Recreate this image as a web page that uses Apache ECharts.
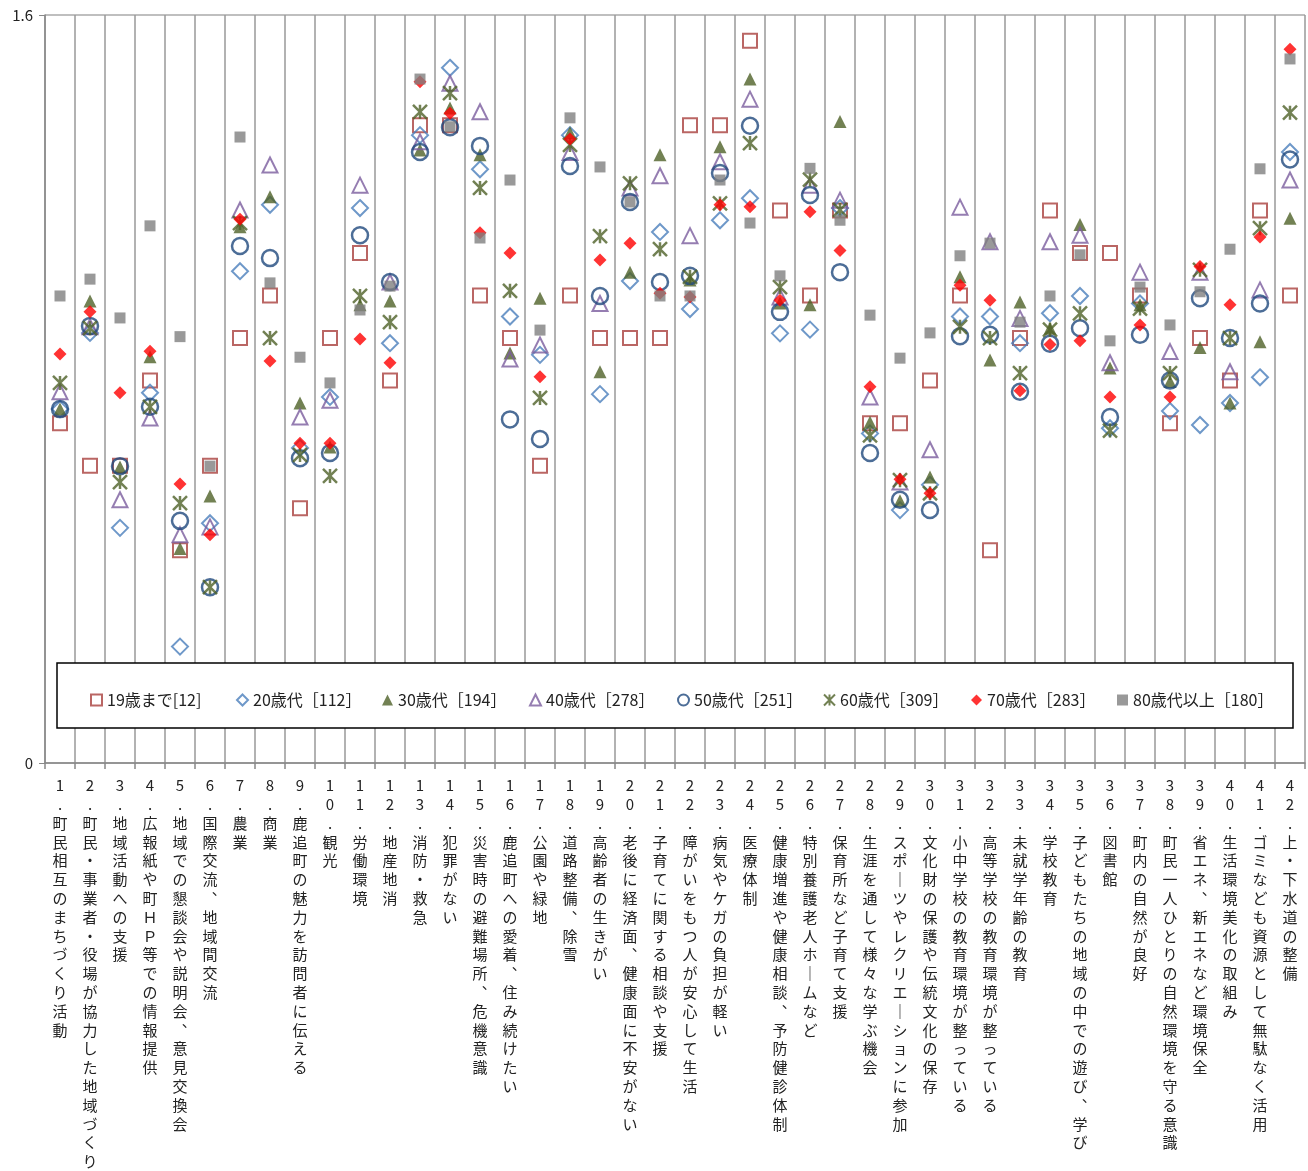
<!DOCTYPE html>
<html>
<head>
<meta charset="utf-8">
<script src="https://cdn.jsdelivr.net/npm/echarts@6/dist/echarts.min.js"></script>
<style>
  html, body { margin: 0; padding: 0; background: #fff; }
  #chart { width: 1308px; height: 1171px; }
</style>
</head>
<body>
<div id="chart"></div>
<script>
// 項目名
const items = [
  '町民相互のまちづくり活動', '町民・事業者・役場が協力した地域づくり', '地域活動への支援',
  '広報紙や町ＨＰ等での情報提供', '地域での懇談会や説明会、意見交換会', '国際交流、地域間交流',
  '農業', '商業', '鹿追町の魅力を訪問者に伝える', '観光', '労働環境', '地産地消',
  '消防・救急', '犯罪がない', '災害時の避難場所、危機意識', '鹿追町への愛着、住み続けたい',
  '公園や緑地', '道路整備、除雪', '高齢者の生きがい', '老後に経済面、健康面に不安がない',
  '子育てに関する相談や支援', '障がいをもつ人が安心して生活', '病気やケガの負担が軽い', '医療体制',
  '健康増進や健康相談、予防健診体制', '特別養護老人ホームなど', '保育所など子育て支援',
  '生涯を通して様々な学ぶ機会', 'スポーツやレクリエーションに参加', '文化財の保護や伝統文化の保存',
  '小中学校の教育環境が整っている', '高等学校の教育環境が整っている', '未就学年齢の教育', '学校教育',
  '子どもたちの地域の中での遊び、学び', '図書館', '町内の自然が良好', '町民一人ひとりの自然環境を守る意識',
  '省エネ、新エネなど環境保全', '生活環境美化の取組み', 'ゴミなども資源として無駄なく活用', '上・下水道の整備'
];

const yTicks = [0, 1.6];

const names = ['19歳まで[12]', '20歳代［112］', '30歳代［194］', '40歳代［278］',
  '50歳代［251］', '60歳代［309］', '70歳代［283］', '80歳代以上［180］'];

const v19 = [0.727, 0.636, 0.636, 0.818, 0.455, 0.636, 0.909, 1.0, 0.545, 0.909, 1.091, 0.818,
  1.364, 1.364, 1.0, 0.909, 0.636, 1.0, 0.909, 0.909, 0.909, 1.364, 1.364, 1.545,
  1.182, 1.0, 1.182, 0.727, 0.727, 0.818, 1.0, 0.455, 0.909, 1.182, 1.091, 1.091,
  1.0, 0.727, 0.909, 0.818, 1.182, 1.0];
const v20 = [0.757, 0.920, 0.503, 0.792, 0.249, 0.513, 1.052, 1.194, 0.674, 0.783, 1.187, 0.898,
  1.343, 1.487, 1.270, 0.955, 0.873, 1.343, 0.789, 1.031, 1.136, 0.971, 1.161, 1.208,
  0.919, 0.927, 1.187, 0.705, 0.541, 0.595, 0.955, 0.955, 0.898, 0.962, 0.999, 0.716,
  0.983, 0.753, 0.723, 0.770, 0.825, 1.307];
const v30 = [0.757, 0.988, 0.633, 0.869, 0.459, 0.571, 1.147, 1.211, 0.770, 0.676, 0.980, 0.988,
  1.311, 1.401, 1.301, 0.877, 0.994, 1.348, 0.837, 1.050, 1.301, 1.033, 1.318, 1.463,
  0.984, 0.980, 1.372, 0.729, 0.561, 0.612, 1.040, 0.862, 0.986, 0.930, 1.152, 0.845,
  0.980, 0.816, 0.889, 0.770, 0.901, 1.165];
const v40 = [0.794, 0.933, 0.563, 0.738, 0.488, 0.505, 1.183, 1.279, 0.740, 0.776, 1.236, 1.029,
  1.329, 1.454, 1.393, 0.864, 0.894, 1.306, 0.983, 1.230, 1.256, 1.128, 1.286, 1.420,
  0.997, 1.236, 1.204, 0.783, 0.601, 0.670, 1.189, 1.115, 0.951, 1.115, 1.129, 0.856,
  1.050, 0.880, 1.050, 0.837, 1.012, 1.247];
const v50 = [0.757, 0.935, 0.635, 0.762, 0.518, 0.376, 1.106, 1.080, 0.652, 0.663, 1.129, 1.029,
  1.307, 1.360, 1.320, 0.735, 0.693, 1.277, 0.999, 1.200, 1.029, 1.042, 1.262, 1.363,
  0.965, 1.215, 1.050, 0.663, 0.563, 0.541, 0.913, 0.916, 0.794, 0.897, 0.930, 0.740,
  0.916, 0.818, 0.994, 0.909, 0.983, 1.291];
const v60 = [0.813, 0.930, 0.601, 0.762, 0.556, 0.376, 1.155, 0.909, 0.659, 0.614, 0.999, 0.943,
  1.393, 1.433, 1.230, 1.010, 0.781, 1.322, 1.127, 1.240, 1.099, 1.040, 1.197, 1.326,
  1.018, 1.248, 1.183, 0.701, 0.605, 0.577, 0.933, 0.909, 0.834, 0.927, 0.962, 0.711,
  0.972, 0.834, 1.055, 0.909, 1.144, 1.391];
const v70 = [0.875, 0.965, 0.792, 0.881, 0.597, 0.488, 1.163, 0.860, 0.684, 0.684, 0.907, 0.856,
  1.457, 1.390, 1.134, 1.091, 0.826, 1.335, 1.076, 1.112, 1.005, 0.997, 1.194, 1.190,
  0.990, 1.179, 1.096, 0.805, 0.607, 0.577, 1.022, 0.990, 0.796, 0.895, 0.903, 0.783,
  0.937, 0.783, 1.062, 0.980, 1.125, 1.527];
const v80 = [0.999, 1.035, 0.952, 1.149, 0.912, 0.635, 1.339, 1.027, 0.868, 0.813, 0.969, 1.020,
  1.463, 1.361, 1.123, 1.247, 0.926, 1.380, 1.275, 1.200, 0.999, 0.999, 1.247, 1.155,
  1.042, 1.272, 1.161, 0.958, 0.866, 0.920, 1.085, 1.112, 0.943, 0.999, 1.087, 0.903,
  1.018, 0.937, 1.008, 1.099, 1.271, 1.506];

const FONT = '"Noto Sans CJK JP", sans-serif';
const categories = items.map((s, i) => String(i + 1));

/* 縦書きラベル */
function vertical (idx) {
  let s = String(idx + 1).split('').join('\n') + '\n.\n';
  let t = items[idx].replace(/、/g, '︑').replace(/ー/g, '｜');
  return s + t.split('').join('\n');
}

const star = 'path://M0,0L10,10M10,0L0,10M5,0L5,10';
const styles = [
  { symbol: 'rect', size: 14, item: { color: 'rgba(0,0,0,0)', borderColor: '#A9403D', borderWidth: 2 } },
  { symbol: 'diamond', size: 16, item: { color: 'rgba(0,0,0,0)', borderColor: '#4A7EBB', borderWidth: 2 } },
  { symbol: 'triangle', size: 13, item: { color: '#4F6228' } },
  { symbol: 'triangle', size: 15, item: { color: 'rgba(0,0,0,0)', borderColor: '#7A5C9E', borderWidth: 2 } },
  { symbol: 'circle', size: 16, item: { color: 'rgba(0,0,0,0)', borderColor: '#1F497D', borderWidth: 2.5 } },
  { symbol: star, size: 14, item: { color: 'rgba(0,0,0,0)', borderColor: '#4F6228', borderWidth: 2.5 } },
  { symbol: 'diamond', size: 13, item: { color: '#FF0000' } },
  { symbol: 'rect', size: 11, item: { color: '#808080' } }
];
const values = [v19, v20, v30, v40, v50, v60, v70, v80];
const legendX = [85, 231, 377, 524, 672, 818, 966, 1112];

const chart = echarts.init(document.getElementById('chart'));
chart.setOption({
  animation: false,
  backgroundColor: '#fff',
  textStyle: { fontFamily: FONT },
  grid: { left: 45, right: 3, top: 15, bottom: 408 },
  legend: names.map((n, i) => ({
    data: [n],
    left: legendX[i],
    top: 687,
    itemWidth: 11,
    itemHeight: 11,
    itemGap: 0,
    selectedMode: false,
    textStyle: { fontSize: 16, color: '#222', fontFamily: FONT }
  })),
  graphic: [{
    type: 'rect',
    z: 3,
    shape: { x: 57, y: 663, width: 1236, height: 65 },
    style: { fill: '#fff', stroke: '#000', lineWidth: 1.5 }
  }],
  xAxis: {
    type: 'category',
    data: categories,
    boundaryGap: true,
    axisLine: { lineStyle: { color: '#888', width: 1.5 } },
    axisTick: { show: true, length: 6, lineStyle: { color: '#888', width: 1.5 } },
    splitLine: { show: true, lineStyle: { color: '#999', width: 1.5 } },
    axisLabel: {
      interval: 0,
      margin: 13,
      fontSize: 15,
      lineHeight: 18.8,
      color: '#222',
      fontFamily: FONT,
      formatter: function (v, i) { return vertical(i); }
    }
  },
  yAxis: {
    type: 'value',
    min: yTicks[0],
    max: yTicks[1],
    interval: 1.6,
    axisLine: { show: true, lineStyle: { color: '#888', width: 1.5 } },
    axisTick: { show: true, length: 6, lineStyle: { color: '#888' } },
    splitLine: { show: true, lineStyle: { color: '#aaa', width: 1.5 } },
    axisLabel: { fontSize: 15, color: '#222', margin: 12, fontFamily: FONT }
  },
  series: names.map((n, i) => ({
    name: n,
    type: 'scatter',
    data: values[i],
    symbol: styles[i].symbol,
    symbolSize: styles[i].size,
    itemStyle: styles[i].item,
    emphasis: { disabled: true }
  }))
});
</script>
</body>
</html>
